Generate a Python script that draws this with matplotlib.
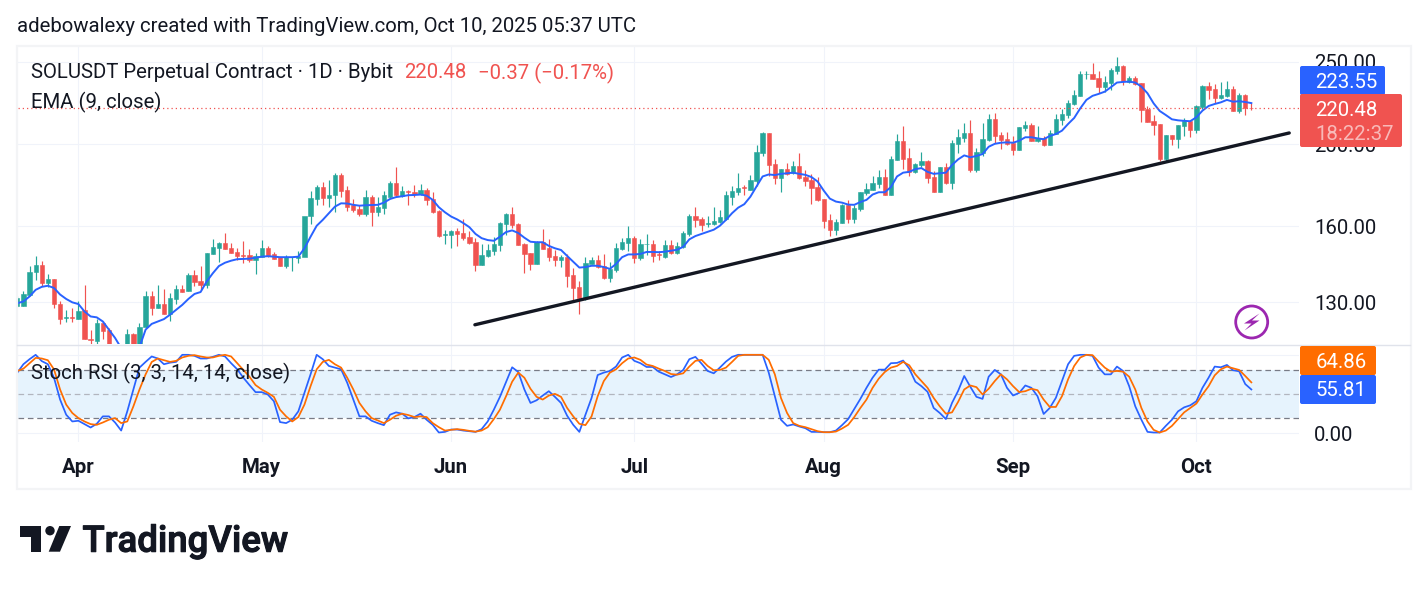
# -*- coding: utf-8 -*-
"""SOLUSDT perpetual daily chart: candles, EMA 9 and Stoch RSI, log price scale."""
import numpy as np
import pandas as pd
import matplotlib
matplotlib.use("Agg")
import matplotlib.pyplot as plt
import matplotlib.patheffects as pe
from matplotlib.patches import Circle, FancyBboxPatch, Polygon, Rectangle
from matplotlib.ticker import FixedLocator, NullLocator

plt.rcParams["font.family"] = ["Roboto", "DejaVu Sans"]

# ============== DATA ==============
dates = pd.date_range("2025-03-22", periods=203, freq="D")

opens = [
    128.6, 128.6, 132.8, 141.0, 143.9, 137.2, 138.6, 129.4, 124.7, 125.0,
    124.4, 127.2, 117.6, 117.1, 122.9, 120.7, 114.5, 111.0, 111.0, 119.4,
    115.0, 121.4, 132.4, 128.0, 129.5, 126.0, 131.3, 134.9, 133.9, 140.0,
    137.9, 136.4, 148.3, 150.7, 152.9, 150.7, 149.1, 147.9, 147.9, 145.9,
    147.2, 150.7, 148.3, 147.0, 143.5, 146.9, 146.7, 147.1, 164.2, 172.4,
    178.0, 172.9, 174.1, 183.8, 176.6, 169.2, 167.6, 165.4, 173.1, 166.3,
    168.0, 173.1, 179.8, 173.8, 176.0, 175.6, 174.7, 176.6, 172.1, 166.6,
    156.3, 156.2, 157.8, 157.0, 155.3, 153.2, 143.9, 147.5, 149.5, 152.0,
    161.0, 165.4, 161.0, 152.4, 148.7, 144.3, 153.2, 150.6, 147.5, 145.9,
    147.1, 140.0, 135.6, 131.6, 144.3, 145.9, 143.5, 139.0, 142.0, 150.2,
    152.8, 154.9, 146.7, 152.2, 152.4, 148.1, 147.1, 152.0, 148.7, 151.2,
    156.6, 164.5, 163.1, 161.1, 161.0, 161.8, 163.2, 173.2, 175.6, 177.7,
    176.6, 180.9, 195.2, 206.1, 189.4, 182.4, 186.9, 184.9, 188.4, 182.9,
    181.4, 178.0, 172.3, 162.7, 158.4, 161.4, 169.5, 163.2, 167.6, 175.1,
    176.6, 179.4, 182.9, 174.3, 191.5, 201.6, 192.5, 185.4, 189.0, 191.0,
    182.9, 175.6, 188.0, 179.9, 200.0, 203.3, 206.1, 186.4, 195.2, 202.2,
    214.1, 205.0, 202.7, 200.5, 196.8, 209.0, 210.7, 201.6, 203.3, 199.5,
    205.6, 213.5, 216.4, 223.0, 228.0, 241.8, 242.0, 239.4, 233.6, 236.2,
    244.0, 247.3, 236.8, 239.4, 236.2, 220.0, 213.0, 211.2, 192.0, 205.0,
    202.7, 210.1, 213.0, 207.8, 221.2, 234.3, 232.4, 226.7, 228.0, 232.4,
    218.8, 228.6, 220.85,
]
highs = [
    132.1, 134.2, 143.7, 147.5, 145.5, 140.4, 138.6, 130.3, 127.4, 128.0,
    130.3, 136.4, 120.7, 124.2, 123.4, 121.2, 114.5, 113.0, 120.9, 119.6,
    122.8, 134.2, 134.2, 136.4, 134.9, 133.3, 136.4, 136.4, 140.7, 142.0,
    143.5, 148.6, 154.5, 153.4, 157.0, 152.7, 150.6, 153.6, 150.2, 148.6,
    154.0, 151.6, 149.1, 147.0, 148.0, 147.2, 149.6, 147.1, 176.0, 178.9,
    180.3, 181.4, 185.0, 184.9, 178.5, 172.4, 169.5, 176.5, 174.0, 173.1,
    176.0, 180.9, 188.0, 178.5, 176.7, 178.9, 179.4, 177.6, 175.6, 167.2,
    158.4, 158.1, 159.2, 163.2, 157.9, 154.9, 152.4, 152.4, 155.3, 161.8,
    165.9, 168.5, 161.4, 152.8, 148.7, 153.6, 158.8, 154.4, 149.9, 148.0,
    148.3, 142.7, 137.9, 147.1, 147.1, 148.0, 148.3, 145.1, 152.8, 154.9,
    160.1, 155.7, 154.4, 156.6, 154.0, 149.5, 154.0, 154.0, 153.2, 157.9,
    165.4, 168.5, 164.1, 164.5, 168.5, 167.2, 176.0, 178.5, 184.9, 178.9,
    183.9, 199.5, 206.7, 206.1, 192.0, 186.9, 189.9, 191.0, 195.2, 186.4,
    184.4, 182.9, 172.3, 165.4, 163.1, 169.9, 171.8, 169.5, 175.6, 179.9,
    183.4, 186.4, 186.9, 193.6, 205.6, 210.1, 197.8, 189.9, 195.7, 191.5,
    185.9, 188.0, 189.9, 202.2, 208.4, 211.8, 213.5, 197.8, 211.8, 217.0,
    217.6, 206.7, 206.7, 204.4, 209.5, 213.0, 211.8, 210.1, 204.4, 207.8,
    217.0, 220.0, 225.5, 231.7, 244.0, 244.0, 249.3, 244.0, 240.7, 245.9,
    253.4, 248.0, 240.9, 240.9, 236.2, 221.8, 216.4, 211.2, 205.0, 205.0,
    210.7, 214.7, 213.5, 222.4, 234.9, 236.8, 235.5, 236.8, 237.5, 234.3,
    229.8, 229.2, 223.6,
]
lows = [
    128.4, 128.6, 132.1, 138.2, 136.0, 135.7, 127.9, 122.7, 123.1, 123.1,
    124.2, 117.5, 116.2, 114.0, 117.5, 112.5, 108.0, 107.0, 109.0, 113.0,
    113.5, 121.2, 125.7, 128.0, 126.0, 123.7, 129.5, 133.6, 133.9, 136.0,
    134.3, 135.2, 148.3, 145.2, 150.2, 148.6, 145.9, 144.8, 145.2, 140.4,
    147.2, 147.2, 146.2, 143.5, 142.8, 141.7, 144.6, 147.1, 161.0, 169.2,
    169.5, 168.7, 166.4, 173.3, 166.8, 166.4, 164.2, 164.5, 159.8, 164.5,
    165.4, 172.8, 173.1, 173.1, 169.3, 173.3, 174.0, 169.3, 165.7, 155.4,
    152.4, 150.7, 151.6, 154.0, 152.4, 141.6, 143.9, 147.1, 148.0, 149.5,
    156.2, 159.2, 152.0, 140.8, 142.0, 144.3, 150.2, 145.5, 143.5, 143.1,
    135.6, 131.0, 126.0, 131.0, 144.3, 142.7, 138.6, 137.5, 141.2, 149.9,
    149.5, 144.7, 145.9, 148.0, 145.1, 145.9, 146.7, 148.3, 148.3, 150.7,
    155.7, 159.6, 157.9, 159.6, 160.6, 161.3, 162.7, 169.3, 173.9, 174.3,
    176.6, 178.5, 193.6, 183.4, 179.4, 175.6, 183.9, 184.4, 181.9, 178.5,
    169.9, 171.3, 159.2, 155.7, 156.2, 161.4, 161.4, 161.4, 166.8, 173.9,
    176.6, 177.6, 173.9, 173.9, 191.5, 186.9, 183.4, 184.9, 188.0, 179.9,
    175.6, 175.6, 179.4, 177.1, 195.2, 201.1, 185.4, 185.4, 193.6, 201.6,
    200.5, 197.3, 199.5, 194.1, 196.8, 207.2, 201.6, 201.1, 198.9, 199.5,
    205.6, 210.7, 214.7, 222.4, 228.0, 238.7, 238.7, 229.8, 230.4, 231.7,
    241.9, 234.9, 236.2, 234.9, 212.4, 212.4, 205.0, 191.0, 190.5, 199.5,
    197.8, 204.4, 203.9, 206.1, 220.0, 226.0, 223.6, 226.0, 227.4, 218.8,
    217.6, 216.4, 219.4,
]
closes = [
    131.5, 133.1, 141.2, 143.9, 137.2, 138.6, 129.3, 124.4, 125.0, 124.7,
    127.1, 117.5, 117.4, 122.9, 120.4, 114.5, 111.0, 109.0, 119.3, 115.0,
    121.5, 132.4, 128.1, 129.5, 126.1, 131.6, 134.9, 133.8, 140.0, 137.5,
    136.4, 148.6, 151.1, 152.9, 150.2, 148.6, 147.5, 147.6, 145.9, 147.5,
    150.7, 147.5, 146.4, 143.5, 147.0, 147.1, 147.5, 164.5, 172.8, 178.0,
    172.8, 173.9, 183.8, 176.2, 168.7, 167.2, 165.4, 173.1, 166.3, 168.4,
    173.9, 179.8, 173.9, 176.0, 175.7, 174.7, 176.6, 171.8, 166.3, 155.7,
    156.6, 157.8, 156.6, 154.9, 152.8, 143.9, 148.0, 149.9, 152.4, 161.4,
    165.4, 160.6, 152.0, 148.3, 144.3, 153.2, 150.2, 147.1, 145.9, 147.1,
    139.7, 135.3, 131.6, 144.7, 145.9, 143.1, 139.0, 142.5, 150.6, 153.2,
    154.9, 146.7, 152.4, 152.5, 147.5, 147.9, 152.0, 148.7, 151.6, 157.1,
    164.5, 162.7, 160.6, 161.3, 162.1, 163.9, 173.9, 176.0, 177.5, 177.5,
    181.4, 195.7, 206.1, 189.0, 182.4, 186.9, 184.4, 188.4, 182.4, 180.9,
    177.5, 171.8, 162.3, 158.4, 161.8, 169.5, 163.2, 168.0, 175.6, 177.1,
    179.9, 182.9, 174.3, 192.0, 201.6, 192.0, 185.4, 189.4, 191.0, 182.4,
    175.6, 188.0, 179.9, 200.5, 203.9, 206.1, 186.4, 195.7, 202.7, 214.1,
    204.4, 202.2, 200.0, 196.8, 209.5, 210.7, 201.6, 203.3, 199.5, 206.1,
    214.1, 217.0, 223.6, 228.6, 242.0, 242.1, 238.7, 233.6, 236.8, 244.6,
    247.3, 237.5, 239.4, 235.5, 219.4, 212.4, 210.7, 192.0, 205.0, 202.7,
    210.7, 213.0, 207.8, 221.8, 234.3, 231.7, 226.7, 228.6, 232.4, 218.8,
    228.6, 220.85, 220.48,
]
ema9 = [
    129.7, 130.3, 132.1, 134.5, 135.6, 136.0, 135.2, 132.8, 131.2, 130.0,
    129.4, 126.8, 125.1, 124.8, 123.4, 120.7, 118.0, 114.8, 112.8, 112.2,
    115.1, 120.7, 122.6, 123.4, 124.2, 125.7, 127.4, 129.1, 131.2, 133.0,
    133.7, 137.6, 140.7, 143.5, 144.8, 145.6, 146.2, 146.3, 146.4, 146.8,
    147.2, 147.4, 147.2, 147.0, 147.0, 147.0, 147.2, 150.6, 155.4, 160.1,
    162.7, 165.7, 168.7, 170.2, 170.1, 169.5, 169.1, 169.3, 169.4, 169.5,
    170.5, 172.2, 173.1, 173.5, 174.0, 174.1, 174.3, 173.8, 171.8, 168.4,
    166.1, 164.2, 162.9, 161.3, 159.5, 156.6, 154.8, 154.0, 153.7, 155.4,
    157.4, 158.1, 157.0, 155.0, 153.3, 153.1, 153.1, 151.6, 150.6, 149.9,
    147.5, 145.2, 142.9, 143.1, 143.6, 143.6, 143.1, 142.4, 144.3, 147.0,
    148.1, 148.1, 148.3, 149.1, 149.1, 149.0, 149.2, 149.6, 150.0, 151.2,
    154.3, 155.7, 156.6, 157.5, 158.4, 160.1, 162.7, 165.7, 168.2, 169.8,
    173.3, 178.2, 183.1, 184.1, 183.8, 184.4, 184.7, 185.0, 184.4, 183.9,
    182.8, 180.6, 176.2, 172.4, 171.0, 170.5, 169.6, 169.5, 170.8, 171.8,
    174.3, 175.4, 175.4, 177.9, 183.1, 185.0, 185.4, 186.8, 187.3, 185.4,
    184.4, 184.7, 185.0, 188.9, 191.8, 193.9, 192.9, 193.6, 194.6, 198.5,
    200.1, 200.7, 200.9, 200.7, 201.8, 203.7, 203.7, 203.1, 202.6, 204.4,
    205.5, 207.4, 211.2, 214.7, 220.4, 225.5, 228.0, 229.2, 230.6, 233.4,
    236.4, 236.8, 237.0, 236.4, 233.8, 229.6, 223.4, 218.8, 216.4, 213.9,
    213.3, 213.0, 212.8, 215.1, 219.0, 221.8, 223.0, 224.0, 225.5, 224.4,
    224.7, 224.2, 223.55,
]
stoch_k = [
    77.3, 88.0, 94.4, 100.0, 92.0, 88.0, 70.8, 43.0, 23.6, 15.0,
    15.9, 11.6, 7.3, 12.0, 21.5, 21.5, 13.7, 3.4, 27.9, 55.8,
    83.7, 91.0, 97.9, 95.3, 88.0, 90.0, 91.0, 100.0, 100.0, 98.7,
    95.3, 95.3, 97.4, 100.0, 97.9, 89.3, 81.5, 70.8, 61.4, 52.4,
    52.4, 49.4, 40.8, 14.2, 12.9, 17.2, 27.9, 51.5, 75.1, 100.0,
    94.4, 85.8, 83.7, 81.5, 64.4, 42.9, 21.5, 21.5, 15.9, 12.9,
    10.3, 23.6, 26.6, 24.9, 18.9, 20.6, 24.9, 17.2, 10.7, 0.9,
    1.7, 4.7, 4.7, 3.4, 2.6, 1.7, 5.2, 15.0, 30.0, 46.4,
    65.2, 84.1, 78.1, 55.8, 38.6, 42.0, 48.0, 53.6, 46.4, 38.6,
    22.3, 10.7, 1.7, 23.6, 45.0, 74.2, 77.3, 79.4, 85.0, 96.6,
    100.0, 92.3, 89.3, 84.5, 84.5, 78.5, 75.1, 71.7, 75.1, 80.7,
    94.4, 97.4, 88.8, 79.4, 76.4, 83.7, 91.4, 97.4, 100.0, 100.0,
    100.0, 100.0, 100.0, 77.3, 47.2, 17.2, 9.4, 11.2, 8.6, 6.4,
    1.7, 1.7, 1.3, 1.3, 3.4, 10.3, 18.0, 30.9, 43.8, 57.9,
    70.8, 81.1, 81.1, 89.3, 89.7, 92.7, 82.4, 65.7, 60.0, 52.8,
    32.2, 25.8, 18.0, 38.6, 54.0, 73.0, 59.2, 46.4, 43.8, 72.1,
    80.7, 75.1, 57.9, 48.1, 51.5, 60.9, 57.9, 47.2, 24.5, 32.2,
    45.1, 66.5, 88.0, 98.7, 100.0, 100.0, 98.7, 83.7, 75.1, 75.1,
    85.0, 79.4, 60.0, 34.3, 17.2, 1.7, 0.9, 0.9, 9.4, 17.2,
    27.9, 33.0, 35.6, 40.8, 57.9, 70.8, 85.0, 84.1, 87.1, 80.3,
    79.0, 62.7, 55.81,
]
stoch_d = [
    79.4, 82.4, 89.3, 96.1, 95.3, 93.1, 81.5, 55.8, 36.5, 25.8,
    19.3, 15.0, 11.6, 10.7, 13.7, 17.2, 19.3, 12.9, 15.0, 34.3,
    55.8, 75.1, 90.9, 95.3, 93.1, 91.0, 92.3, 96.6, 98.7, 99.6,
    97.9, 96.6, 96.6, 98.7, 100.0, 97.9, 89.3, 80.7, 72.1, 61.4,
    55.8, 51.5, 46.4, 30.0, 21.5, 15.0, 20.6, 36.5, 60.0, 81.5,
    91.0, 93.6, 87.9, 83.7, 70.8, 55.8, 38.6, 27.9, 19.3, 16.3,
    12.9, 17.2, 22.3, 24.9, 23.2, 20.6, 21.5, 20.6, 12.9, 7.7,
    3.4, 4.3, 5.2, 4.3, 3.0, 2.0, 3.4, 7.7, 18.0, 30.0,
    47.2, 65.7, 77.3, 70.8, 56.7, 46.4, 42.9, 48.0, 50.2, 46.4,
    32.2, 21.5, 12.0, 10.3, 21.5, 47.2, 66.5, 77.3, 81.5, 89.3,
    95.3, 96.6, 93.6, 87.6, 85.8, 82.4, 79.4, 75.5, 74.7, 76.4,
    85.0, 92.3, 93.6, 85.8, 80.3, 80.7, 83.7, 91.0, 98.7, 100.0,
    100.0, 100.0, 100.0, 93.6, 75.1, 45.0, 25.8, 12.9, 9.4, 7.7,
    5.2, 2.6, 1.3, 1.3, 2.1, 6.0, 10.7, 20.6, 32.2, 42.9,
    57.9, 69.5, 78.1, 83.7, 85.8, 91.0, 86.7, 75.1, 66.5, 57.9,
    45.0, 34.3, 24.9, 26.6, 40.0, 55.8, 60.9, 58.8, 49.4, 56.7,
    66.5, 75.1, 68.7, 60.0, 52.4, 53.6, 56.7, 54.9, 42.9, 33.5,
    33.5, 47.2, 68.7, 85.8, 96.6, 100.0, 99.6, 91.4, 83.7, 78.5,
    79.4, 78.5, 72.1, 55.8, 32.2, 15.0, 4.3, 0.9, 3.4, 9.4,
    18.0, 26.6, 32.2, 37.8, 49.4, 60.0, 73.8, 81.5, 85.0, 82.8,
    80.7, 73.0, 64.86,
]

trend_days = [74.9, 208.2]
trend_prices = [122.3, 206.1]

price_ticks = [130, 160, 200, 250]
price_tick_labels = ["130.00", "160.00", "200.00", "250.00"]
last_close = 220.48
last_ema = 223.55
last_k = 55.81
last_d = 64.86

# ============== STYLE ==============
W, H = 1428, 591
GREEN = "#26A69A"
RED = "#F05350"
BLUE = "#2962FF"
ORANGE = "#FF6D00"
GRID = "#F0F3FA"
INK = "#131722"
FS = 14.7


def px_axes(left, top, right, bottom):
    return fig.add_axes([left / W, 1 - bottom / H, (right - left) / W, (bottom - top) / H])


fig = plt.figure(figsize=(W / 100, H / 100), dpi=100, facecolor="white")
ax = px_axes(17.5, 46.5, 1299, 344)
ax_s = px_axes(17.5, 344, 1299, 442)

x = np.arange(len(dates))
month_idx = [i for i, d in enumerate(dates) if d.day == 1]
month_labels = [dates[i].strftime("%b") for i in month_idx]

# ============== PRICE PANE ==============
ax.set_yscale("log")
ax.set_xlim(0.03, 209.8)
ax.set_ylim(116.07, 260.76)
ax.yaxis.set_major_locator(FixedLocator(price_ticks))
ax.yaxis.set_major_formatter(plt.FixedFormatter(price_tick_labels))
ax.yaxis.set_minor_locator(NullLocator())
ax.yaxis.tick_right()
ax.tick_params(axis="y", length=0, pad=10.8, labelsize=FS, labelcolor=INK)
ax.set_xticks(month_idx)
ax.tick_params(axis="x", length=0, labelbottom=False)
ax.grid(True, color=GRID, lw=0.8)
ax.set_axisbelow(True)

colors = [GREEN if c >= o else RED for o, c in zip(opens, closes)]
ax.vlines(x, lows, highs, colors=colors, lw=0.85, zorder=2)
body_low = np.minimum(opens, closes)
body_high = np.maximum(opens, closes)
ax.bar(x, body_high - body_low, bottom=body_low, width=0.7, color=colors,
       edgecolor=colors, lw=0.4, zorder=3)
ax.plot(x, ema9, color=BLUE, lw=1.4, zorder=4)
ax.axhline(last_close, color=RED, lw=0.9, ls=(0, (1, 2.4)), zorder=4)
ax.plot(trend_days, trend_prices, color=INK, lw=2.4, solid_capstyle="round", zorder=5)

# ============== STOCH RSI PANE ==============
ax_s.set_xlim(0.03, 209.8)
ax_s.set_ylim(-11.2, 113.8)
ax_s.yaxis.tick_right()
ax_s.set_yticks([0, 100], ["0.00", ""])
ax_s.tick_params(axis="y", length=0, pad=10.8, labelsize=FS, labelcolor=INK)
ax_s.set_xticks(month_idx, month_labels)
ax_s.tick_params(axis="x", length=0, pad=11.5, labelsize=FS, labelcolor=INK)
for lab in ax_s.get_xticklabels():
    lab.set_fontweight("bold")
ax_s.grid(True, color=GRID, lw=0.8)
ax_s.set_axisbelow(True)
ax_s.axhspan(20, 80, color="#E6F3FD", lw=0, zorder=1)
ax_s.axhline(80, color="#787B86", lw=0.9, ls=(0, (4.5, 3)), zorder=2)
ax_s.axhline(50, color="#B2B5BE", lw=0.9, ls=(0, (4.5, 3)), zorder=2)
ax_s.axhline(20, color="#787B86", lw=0.9, ls=(0, (4.5, 3)), zorder=2)
ax_s.plot(x, stoch_k, color=BLUE, lw=1.25, zorder=3)
ax_s.plot(x, stoch_d, color=ORANGE, lw=1.25, zorder=4)

for a in (ax, ax_s):
    for sp in a.spines.values():
        sp.set_visible(False)
    a.patch.set_alpha(0)

# ============== OVERLAY (pixel coords): legends, price tags, logo ==============
ov = fig.add_axes([0, 0, 1, 1])
ov.set_xlim(0, W)
ov.set_ylim(H, 0)
ov.axis("off")

ov.add_patch(Rectangle((16.5, 45.5), 1394, 443, fill=False, ec="#F3F4F6", lw=1.6))
ov.plot([17, 1410], [344.5, 344.5], color="#E0E3EB", lw=1)

ov.text(17, 27, "adebowalexy created with TradingView.com, Oct 10, 2025 05:37 UTC",
        fontsize=FS, color=INK, va="center")
ov.text(31, 73, "SOLUSDT Perpetual Contract · 1D · Bybit", fontsize=FS, color=INK, va="center")
ov.text(404, 73, f"{last_close:.2f}", fontsize=FS, color=RED, va="center")
ov.text(478, 73, "−0.37 (−0.17%)", fontsize=FS, color=RED, va="center")
ov.text(31, 102, "EMA (9, close)", fontsize=FS, color=INK, va="center")
ov.text(31, 373, "Stoch RSI (3, 3, 14, 14, close)", fontsize=FS, color=INK, va="center")


def tag(left, top, right, bottom, color):
    ov.add_patch(FancyBboxPatch((left, top), right - left, bottom - top,
                                boxstyle="round,pad=0,rounding_size=2",
                                fc=color, ec="none", zorder=5))


tag(1300, 66, 1385, 95, BLUE)
tag(1300, 94, 1402, 147, RED)
tag(1300, 346, 1376, 375, ORANGE)
tag(1300, 375, 1376, 404, BLUE)
ov.text(1315, 82, f"{last_ema:.2f}", fontsize=FS, color="white", va="center", zorder=6)
ov.text(1315, 110.5, f"{last_close:.2f}", fontsize=FS, color="white", va="center", zorder=6)
ov.text(1315, 135, "18:22:37", fontsize=FS, color="white", alpha=0.6, va="center", zorder=6)
ov.text(1315.5, 362, f"{last_d:.2f}", fontsize=FS, color="white", va="center", zorder=6)
ov.text(1315.5, 391, f"{last_k:.2f}", fontsize=FS, color="white", va="center", zorder=6)

# lightning badge
ov.add_patch(Circle((1251.7, 322), 16, fill=False, ec="#9C27B0", lw=2))
ov.add_patch(Polygon([(1259.5, 313.5), (1244, 323.5), (1251.5, 323.5), (1244.5, 330.5),
                      (1259.5, 320.5), (1252, 320.5)], closed=True, fc="#9C27B0", ec="none"))

# TradingView logo
ov.add_patch(Polygon([(20, 526), (40.7, 526), (40.7, 551.7), (30.7, 551.7),
                      (30.7, 536.7), (20, 536.7)], closed=True, fc=INK, ec="none"))
ov.add_patch(Circle((50, 530.7), 4.7, fc=INK, ec="none"))
ov.add_patch(Polygon([(59.3, 526), (71, 526), (60, 551.7), (48.7, 551.7)],
                     closed=True, fc=INK, ec="none"))
logo = ov.text(82.5, 551.7, "TradingView", fontsize=26.3, fontweight="medium", color=INK,
               va="baseline", family=["Roboto", "DejaVu Sans"])
logo.set_path_effects([pe.withStroke(linewidth=0.8, foreground=INK)])

fig.savefig("out.png", dpi=100, facecolor="white")
